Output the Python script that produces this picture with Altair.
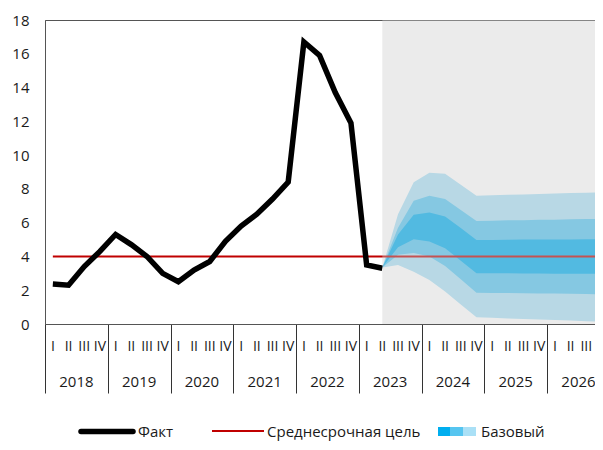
import altair as alt
import pandas as pd

# ---------------- data ----------------
years = [2018, 2019, 2020, 2021, 2022, 2023, 2024, 2025, 2026]
quarter_names = ["I", "II", "III", "IV"]
y_ticks = [0, 2, 4, 6, 8, 10, 12, 14, 16, 18]

# actual inflation, % YoY, 2018 Q1 .. 2023 Q2
fact = [2.37, 2.3, 3.4, 4.3,
        5.3, 4.7, 4.0, 3.0,
        2.5, 3.2, 3.7, 4.9,
        5.8, 6.5, 7.4, 8.4,
        16.7, 15.9, 13.7, 11.9,
        3.5, 3.3]

target = 4.0

# forecast fan, 2023 Q2 .. 2026 Q4
fc_start = 21
outer_hi = [3.35, 6.5, 8.4, 8.95, 8.9, 8.25, 7.6, 7.62, 7.65, 7.67, 7.7, 7.72, 7.75, 7.77, 7.8]
mid_hi = [3.35, 5.7, 7.3, 7.6, 7.4, 6.75, 6.1, 6.12, 6.14, 6.15, 6.17, 6.18, 6.2, 6.21, 6.23]
dark_hi = [3.35, 5.3, 6.47, 6.6, 6.37, 5.68, 4.98, 4.98, 4.99, 5.0, 5.0, 5.01, 5.01, 5.02, 5.02]
dark_lo = [3.35, 4.55, 5.02, 4.88, 4.49, 3.75, 3.0, 3.0, 3.0, 2.99, 2.99, 2.98, 2.98, 2.97, 2.97]
mid_lo = [3.35, 4.1, 4.2, 4.0, 3.44, 2.65, 1.85, 1.84, 1.83, 1.82, 1.81, 1.8, 1.79, 1.78, 1.76]
outer_lo = [3.35, 3.5, 3.1, 2.6, 1.92, 1.15, 0.4, 0.37, 0.33, 0.3, 0.27, 0.23, 0.2, 0.17, 0.13]

legend_labels = ["Факт", "Среднесрочная цель", "Базовый"]

# ---------------- tables ----------------
W, H = 550, 304
Q_PX = 15.69
X_MAX = W / Q_PX
n_q = len(years) * 4

fact_df = pd.DataFrame({"x": [i + 0.5 for i in range(len(fact))], "v": fact})
fc_df = pd.DataFrame({
    "x": [fc_start + j + 0.5 for j in range(len(outer_hi))],
    "ohi": outer_hi, "mhi": mid_hi, "dhi": dark_hi,
    "dlo": dark_lo, "mlo": mid_lo, "olo": outer_lo,
})
target_df = pd.DataFrame({"x": [0.5], "x2": [n_q - 0.5], "v": [target]})
shade_df = pd.DataFrame({"x": [fc_start + 0.5], "x2": [X_MAX], "y": [0], "y2": [18]})
q_df = pd.DataFrame({"x": [i + 0.5 for i in range(n_q)],
                     "lab": [quarter_names[i % 4] for i in range(n_q)]})
yr_df = pd.DataFrame({"x": [4 * k + 2 for k in range(len(years))],
                      "lab": [str(y) for y in years]})
one = pd.DataFrame({"a": [0]})

FONT = "Open Sans"

xscale = alt.Scale(domain=[0, X_MAX], nice=False, zero=False)
xaxis = alt.Axis(values=[4 * k for k in range(len(years))], labels=False,
                 tickSize=69, tickColor="#333333", tickWidth=1,
                 domainColor="#555555", grid=False, title=None)
yscale = alt.Scale(domain=[0, 18], nice=False, zero=False)
yaxis = alt.Axis(values=y_ticks, ticks=False, labelPadding=16, labelFontSize=15,
                 labelFont=FONT, labelColor="#1a1a1a", domainColor="#555555",
                 grid=False, title=None)


def X(f="x"):
    return alt.X(f"{f}:Q", scale=xscale, axis=xaxis)


def Y(f):
    return alt.Y(f"{f}:Q", scale=yscale, axis=yaxis)


base_fc = alt.Chart(fc_df)
band_light = base_fc.mark_area(color="#aae0f6", clip=True).encode(x=X(), y=Y("olo"), y2="ohi:Q")
band_mid = base_fc.mark_area(color="#56c5f0", clip=True).encode(x=X(), y=Y("mlo"), y2="mhi:Q")
band_dark = base_fc.mark_area(color="#00aeef", clip=True).encode(x=X(), y=Y("dlo"), y2="dhi:Q")

target_rule = alt.Chart(target_df).mark_rule(color="#c00000", strokeWidth=2, clip=True).encode(
    x=X(), x2="x2:Q", y=Y("v"))

fact_line = alt.Chart(fact_df).mark_line(color="#000000", strokeWidth=5.5).encode(
    x=X(), y=Y("v"))

shade = alt.Chart(shade_df).mark_rect(color="#cdcdcd", opacity=0.4, clip=True).encode(
    x=X(), x2="x2:Q", y=Y("y"), y2="y2:Q")

q_text = alt.Chart(q_df).mark_text(font=FONT, fontSize=14, color="#1a1a1a",
                                   baseline="middle", align="center").encode(
    x=X(), y=alt.value(H + 23), text="lab:N")
yr_text = alt.Chart(yr_df).mark_text(font=FONT, fontSize=15, color="#1a1a1a",
                                     baseline="middle", align="center").encode(
    x=X(), y=alt.value(H + 58), text="lab:N")

# ---- manual legend ----
LY = 411
leg_black = alt.Chart(one).mark_rule(color="#000000", strokeWidth=5.5, strokeCap="round").encode(
    x=alt.value(36), x2=alt.value(88), y=alt.value(LY + 0.5))
leg_black_t = alt.Chart(one).mark_text(font=FONT, fontSize=15, align="left",
                                       baseline="alphabetic", color="#1a1a1a").encode(
    x=alt.value(93), y=alt.value(LY + 6), text=alt.value(legend_labels[0]))
leg_red = alt.Chart(one).mark_rule(color="#c00000", strokeWidth=2).encode(
    x=alt.value(167), x2=alt.value(219), y=alt.value(LY))
leg_red_t = alt.Chart(one).mark_text(font=FONT, fontSize=15, align="left",
                                     baseline="alphabetic", color="#1a1a1a").encode(
    x=alt.value(222), y=alt.value(LY + 6), text=alt.value(legend_labels[1]))
sq1 = alt.Chart(one).mark_rect(color="#00aeef").encode(
    x=alt.value(393), x2=alt.value(405), y=alt.value(LY - 4), y2=alt.value(LY + 5))
sq2 = alt.Chart(one).mark_rect(color="#56c5f0").encode(
    x=alt.value(405), x2=alt.value(418), y=alt.value(LY - 4), y2=alt.value(LY + 5))
sq3 = alt.Chart(one).mark_rect(color="#aae0f6").encode(
    x=alt.value(418), x2=alt.value(431), y=alt.value(LY - 4), y2=alt.value(LY + 5))
leg_blue_t = alt.Chart(one).mark_text(font=FONT, fontSize=15, align="left",
                                      baseline="alphabetic", color="#1a1a1a").encode(
    x=alt.value(436), y=alt.value(LY + 6), text=alt.value(legend_labels[2]))

chart = alt.layer(
    band_light, band_mid, band_dark, target_rule, fact_line, shade,
    q_text, yr_text,
    leg_black, leg_black_t, leg_red, leg_red_t, sq1, sq2, sq3, leg_blue_t,
).properties(
    width=W, height=H,
    padding={"left": 37, "top": 12, "right": 0, "bottom": 118},
    autosize=alt.AutoSizeParams(type="none"),
).configure_view(stroke="#555555", strokeWidth=1)

chart.save("out.html", embed_options={"renderer": "svg", "actions": False})
